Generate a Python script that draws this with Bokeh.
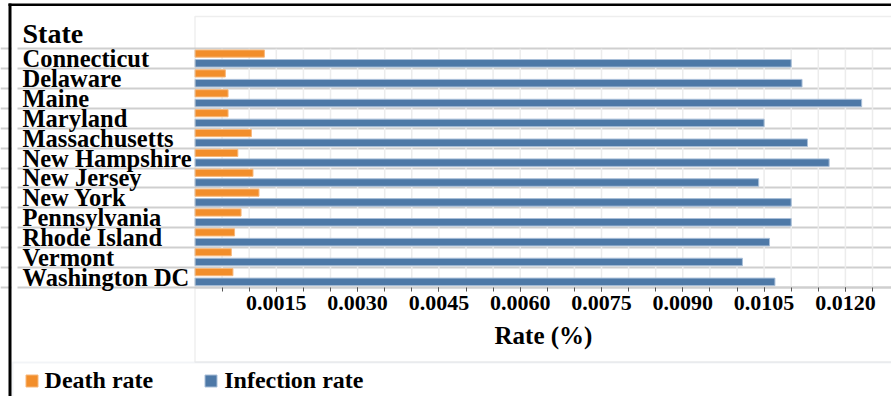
from bokeh.plotting import figure
from bokeh.models import (Range1d, LinearAxis, FixedTicker, PrintfTickFormatter, Grid,
                          BoxAnnotation, Label, Legend, LegendItem, ColumnDataSource)
from bokeh.transform import dodge
from bokeh.core.properties import value
from bokeh.embed import file_html
from bokeh.resources import INLINE

# ---------------- data ----------------
states = ["Connecticut", "Delaware", "Maine", "Maryland", "Massachusetts", "New Hampshire",
          "New Jersey", "New York", "Pennsylvania", "Rhode Island", "Vermont", "Washington DC"]
death_rate = [0.00128, 0.00056, 0.00061, 0.00061, 0.00104, 0.00079,
              0.00107, 0.00118, 0.00085, 0.00073, 0.00067, 0.00070]
infection_rate = [0.01100, 0.01120, 0.01230, 0.01050, 0.01130, 0.01170,
                  0.01040, 0.01100, 0.01100, 0.01060, 0.01010, 0.01070]
tick_values = [0.0015, 0.0030, 0.0045, 0.0060, 0.0075, 0.0090, 0.0105, 0.0120]
minor_tick_values = [0.0005, 0.0010, 0.0015, 0.0020, 0.0025, 0.0030, 0.0035, 0.0040,
                     0.0045, 0.0050, 0.0055, 0.0060, 0.0065, 0.0070, 0.0075, 0.0080,
                     0.0085, 0.0090, 0.0095, 0.0100, 0.0105, 0.0110, 0.0115, 0.0120, 0.0125]
header = "State"
axis_title = "Rate (%)"
series_names = ["Death rate", "Infection rate"]

# ---------------- layout helpers (page pixels) ----------------
W, H = 891, 396
ZERO_PX = 194.5
PX_PER_UNIT = 54200.0
ROW_TOP = 48.3
ROW_PX = 19.87


def xd(px):
    return (px - ZERO_PX) / PX_PER_UNIT


def yd(py):
    return -0.5 + (py - ROW_TOP) / ROW_PX


n = len(states)
rows = list(range(n))
src = ColumnDataSource(dict(state=states, row=rows, death=death_rate, infection=infection_rate))

FONT = "Liberation Serif"
ORANGE = "#F28E2B"
BLUE = "#4E79A7"

p = figure(width=W, height=H, output_backend="svg", toolbar_location=None, tools="",
           x_range=Range1d(xd(0), xd(W)),
           y_range=Range1d(yd(H), yd(0)),
           x_axis_location=None, y_axis_location=None, title=None,
           min_border=0, min_border_left=0, min_border_right=0,
           min_border_top=0, min_border_bottom=0,
           outline_line_color=None, background_fill_color="white",
           border_fill_color="white")
p.xgrid.visible = False
p.ygrid.visible = False

# row separators
row_grid = Grid(dimension=1, ticker=FixedTicker(ticks=[r - 0.5 for r in range(n + 1)]),
                grid_line_color="#cfcfcf", grid_line_width=2)
p.add_layout(row_grid, "center")

# vertical grid lines inside the rows region
p.segment(x0=minor_tick_values, x1=minor_tick_values, y0=-0.5, y1=n - 0.5,
          line_color="#ececec", line_width=1.5)

# bars
r_death = p.hbar(y=dodge("row", -0.26), left=0, right="death", height=0.36, source=src,
                 fill_color=ORANGE, line_color="#f7b77a", line_width=1)
r_inf = p.hbar(y=dodge("row", 0.23), left=0, right="infection", height=0.38, source=src,
               fill_color=BLUE, line_color="#a9bfd8", line_width=1)

# category labels
p.text(x=xd(22), y="row", text="state", source=src, text_font=value(FONT),
       text_font_style="bold", text_font_size="24.5px", text_align="left",
       text_baseline="middle", text_color="black")

# x axis
xaxis = LinearAxis(ticker=FixedTicker(ticks=tick_values, minor_ticks=minor_tick_values),
                   formatter=PrintfTickFormatter(format="%.4f"),
                   fixed_location=n - 0.5, bounds=(0, xd(895)),
                   axis_label=axis_title,
                   axis_line_color="#cfcfcf", axis_line_width=2,
                   major_tick_line_color="#555555", minor_tick_line_color="#555555",
                   major_tick_in=0, major_tick_out=4, minor_tick_in=0, minor_tick_out=4,
                   major_label_standoff=5,
                   major_label_text_font=FONT, major_label_text_font_style="bold",
                   major_label_text_font_size="22px", major_label_text_color="black",
                   axis_label_text_font=FONT, axis_label_text_font_style="bold",
                   axis_label_text_font_size="25px", axis_label_text_color="black",
                   axis_label_standoff=8)
p.add_layout(xaxis, "below")

# header
p.add_layout(Label(x=xd(22), y=yd(32.5), text=header, text_font=FONT,
                   text_font_style="bold", text_font_size="28px",
                   text_baseline="middle", text_color="black"))

# boxes
p.add_layout(BoxAnnotation(left=0, right=xd(905), top=yd(16), bottom=yd(361.5),
                           fill_alpha=0, line_color="#c8c8c8", line_width=1.5))
p.add_layout(BoxAnnotation(left=xd(11), right=xd(17), top=yd(17), bottom=yd(360),
                           fill_color="white", fill_alpha=1, line_color=None))
p.add_layout(BoxAnnotation(left=xd(12), right=xd(905), top=yd(362), bottom=yd(420),
                           fill_alpha=0, line_color="#d3dbe6", line_width=2))
p.add_layout(BoxAnnotation(left=xd(8), right=xd(905), top=yd(3), bottom=yd(5.5),
                           fill_color="black", fill_alpha=1, line_color=None))
p.add_layout(BoxAnnotation(left=xd(8), right=xd(11), top=yd(3), bottom=yd(420),
                           fill_color="black", fill_alpha=1, line_color=None))

# legend
legend = Legend(items=[LegendItem(label=series_names[0], renderers=[r_death]),
                       LegendItem(label=series_names[1], renderers=[r_inf])],
                orientation="horizontal", location=(23.6, 2.5),
                glyph_width=15, glyph_height=15, label_standoff=6, spacing=50,
                padding=0, margin=0, border_line_color=None, background_fill_alpha=0,
                label_text_font=FONT, label_text_font_style="bold",
                label_text_font_size="24px", label_text_color="black")
p.add_layout(legend)

open("out.html", "w").write(file_html(p, INLINE))
